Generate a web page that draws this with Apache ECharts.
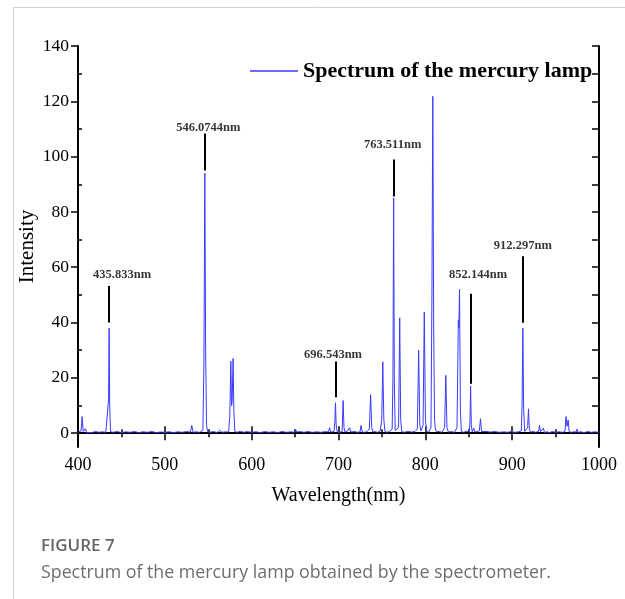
<!DOCTYPE html>
<html>
<head>
<meta charset="utf-8">
<script src="https://cdn.jsdelivr.net/npm/echarts@6/dist/echarts.min.js"></script>
<style>
  html, body { margin: 0; padding: 0; background: #fff; }
  #chart { width: 625px; height: 599px; }
</style>
</head>
<body>
<div id="chart"></div>
<script>
// Mercury lamp spectrum: wavelength (nm) and measured intensity
const wavelengthNm = [
  400, 402, 403.5, 404.8, 406, 407.5, 408.6, 409.8, 412, 416, 420, 424, 428, 432,
  434.3, 435.2, 435.833, 436.5, 437.5, 440, 445, 450, 455, 460, 465, 470, 475, 480,
  485, 490, 495, 500, 505, 510, 515, 520, 525, 529.5, 531, 532.5, 536, 540,
  543.8, 545.0, 546.0744, 547.0, 548.0, 549.2, 552, 556, 560, 563, 566, 570,
  573.5, 574.8, 576.0, 576.9, 577.6, 578.6, 579.5, 580.6, 583, 587, 591, 595,
  600, 605, 610, 615, 620, 625, 630, 635, 640, 645, 649, 650.5, 652, 656, 660,
  665, 670, 675, 680, 685, 688.5, 689.7, 691, 694.8, 695.8, 696.543, 697.3, 698.5,
  701, 704.2, 705.3, 706.3, 707.5, 710, 712.7, 714, 718, 722, 724.8, 726, 727.2,
  730, 733, 735.5, 737, 738.3, 739.5, 742, 745, 748, 749.8, 751, 752.2, 753.5,
  756, 759, 761.8, 762.7, 763.511, 764.3, 765.3, 767, 769.2, 770.5, 771.6, 772.8,
  776, 780, 784, 788, 790.8, 792.3, 793.6, 795, 797.4, 798.8, 800.1, 801.5,
  804, 806.5, 807.6, 808.6, 809.6, 810.6, 811.5, 813, 816, 819, 822.2, 823.6,
  824.9, 826.5, 830, 833.5, 836.5, 838.0, 838.6, 839.4, 840.4, 841.5, 844, 847,
  850.5, 851.4, 852.144, 852.9, 854, 855.7, 857, 859, 862.2, 863.5, 864.8, 867,
  871, 875, 880, 885, 890, 895, 899, 903, 907, 910.5, 911.4, 912.297, 913.2, 914.4,
  916.5, 917.8, 918.8, 919.8, 921, 924, 927, 930.5, 931.5, 932.5, 934.5, 936,
  937.2, 940, 943, 946, 950, 954, 958, 960.8, 962, 963.2, 964.5, 965.6, 968, 971,
  973.5, 974.5, 975.5, 979, 983, 987, 991, 995, 1000
];
const intensity = [
  0.4, 0.5, 0.8, 6.0, 0.6, 0.3, 1.6, 0.2, 0.5, 0.2, 0.6, 0.3, 0.5, 0.3,
  0.8, 12, 38, 10, 0.6, 0.3, 0.6, 0.2, 0.5, 0.3, 0.6, 0.2, 0.5, 0.3,
  0.6, 0.2, 0.4, 0.3, 0.5, 0.2, 0.5, 0.3, 0.6, 0.4, 2.8, 0.3, 0.5, 0.3,
  1.0, 25, 94, 30, 3, 0.6, 0.3, 0.6, 0.2, 1.0, 0.3, 0.5,
  0.4, 6, 26, 10, 12, 27, 8, 0.6, 0.3, 0.7, 0.3, 0.6,
  0.3, 0.5, 0.2, 0.6, 0.3, 0.5, 0.2, 0.6, 0.3, 0.5, 0.3, 1.4, 0.4, 0.6, 0.3,
  0.6, 0.3, 0.5, 0.3, 0.6, 0.4, 2.0, 0.4, 0.6, 4, 11, 3, 0.5,
  0.3, 0.6, 11.8, 2, 0.4, 0.6, 2.0, 0.4, 0.6, 0.3, 0.5, 2.8, 0.5,
  0.3, 0.6, 1.5, 13.9, 2, 0.4, 0.6, 0.3, 0.8, 5, 25.8, 5, 0.6,
  0.3, 0.7, 1.5, 20, 85, 18, 1.0, 0.6, 2, 41.7, 5, 0.6,
  0.3, 0.7, 0.4, 0.6, 1.5, 30, 3, 0.8, 3, 43.8, 5, 0.6,
  0.4, 2, 50, 121.8, 40, 5, 1.5, 0.5, 0.6, 0.3, 2, 20.9,
  2, 0.4, 0.6, 0.3, 2, 41, 38, 52, 8, 0.6, 0.3, 0.7,
  0.5, 4, 17, 3, 0.5, 1.8, 0.4, 0.6, 0.8, 5.2, 0.6, 0.3,
  0.6, 0.4, 0.6, 0.3, 0.5, 0.3, 0.6, 0.3, 0.5, 0.8, 10, 38, 9, 0.6,
  0.4, 2, 8.8, 1.5, 0.4, 0.6, 0.3, 0.7, 2.8, 0.5, 0.3, 1.8,
  0.2, 0.5, 0.2, 0.6, 0.3, 0.5, 0.3, 0.6, 6, 2.5, 4.8, 0.6, 0.3, 0.5,
  0.4, 1.5, 0.3, 0.5, 0.2, 0.6, 0.3, 0.5, 0.3
];

// Axis tick values
const yMajorTicks = [0, 20, 40, 60, 80, 100, 120, 140];
const yMinorTicks = [10, 30, 50, 70, 90, 110, 130];
const yAllTicks = [0, 10, 20, 30, 40, 50, 60, 70, 80, 90, 100, 110, 120, 130, 140];

// Labelled emission lines
const lineLabels = ['435.833nm', '546.0744nm', '696.543nm', '763.511nm', '852.144nm', '912.297nm'];
const lineWavelengths = [435.833, 546.0744, 696.543, 763.511, 852.144, 912.297];

// Placement of each marker stroke and its caption (intensity units / px shift)
const markerLayout = [
  { from: 40.0, to: 53.2, textAt: 57.4, dx: 13 },
  { from: 95.0, to: 108.4, textAt: 110.3, dx: 3.5 },
  { from: 13.0, to: 25.9, textAt: 28.4, dx: -2.5 },
  { from: 85.6, to: 99.0, textAt: 104.2, dx: -1 },
  { from: 17.9, to: 50.4, textAt: 57.2, dx: 7.5 },
  { from: 39.9, to: 64.0, textAt: 67.9, dx: 0 }
];

const serif = '"Liberation Serif", "Times New Roman", serif';
const sans = '"Open Sans", "Noto Sans", sans-serif';

const spectrum = wavelengthNm.map((w, i) => [w, intensity[i]]);

const markerLines = lineWavelengths.map((w, i) => [
  { coord: [w, markerLayout[i].from] },
  { coord: [w, markerLayout[i].to] }
]);

const markerTexts = lineWavelengths.map((w, i) => ({
  value: [w, markerLayout[i].textAt],
  label: { offset: [markerLayout[i].dx, 0] },
  name: lineLabels[i]
}));

const axisBlack = { color: '#000', width: 2 };
const tickBlack = { color: '#000', width: 1.5 };

const chart = echarts.init(document.getElementById('chart'), null, { renderer: 'canvas' });

chart.setOption({
  animation: false,
  backgroundColor: '#fff',
  grid: { left: 78, right: 26, top: 46, bottom: 152, containLabel: false },
  legend: {
    data: ['Spectrum of the mercury lamp'],
    left: 245,
    top: 55,
    icon: 'rect',
    itemWidth: 48,
    itemHeight: 1.5,
    textStyle: { fontFamily: serif, fontWeight: 'bold', fontSize: 22, color: '#000' }
  },
  xAxis: [
    {
      type: 'value', position: 'bottom', min: 400, max: 1000, interval: 100,
      axisLine: { lineStyle: axisBlack },
      axisTick: { inside: true, length: 7, lineStyle: tickBlack },
      minorTick: { show: true, splitNumber: 2, length: 4, lineStyle: tickBlack },
      axisLabel: { margin: 9, color: '#000', fontFamily: serif, fontSize: 18, formatter: v => String(v) },
      splitLine: { show: false },
      name: 'Wavelength(nm)',
      nameLocation: 'middle',
      nameGap: 39,
      nameTextStyle: { fontFamily: serif, fontSize: 20, color: '#000' }
    },
    {
      type: 'value', position: 'top', min: 400, max: 1000, interval: 100,
      axisLine: { lineStyle: axisBlack },
      axisTick: { inside: true, length: 7, lineStyle: tickBlack },
      minorTick: { show: true, splitNumber: 2, length: 4, lineStyle: tickBlack },
      axisLabel: { show: false },
      splitLine: { show: false }
    }
  ],
  yAxis: [
    {
      type: 'value', position: 'left', min: -5, max: 140,
      axisLine: { lineStyle: axisBlack },
      axisTick: { inside: false, length: 7, lineStyle: tickBlack, customValues: yMajorTicks },
      axisLabel: { margin: 9, color: '#000', fontFamily: serif, fontSize: 17.5, customValues: yMajorTicks },
      splitLine: { show: false },
      name: 'Intensity',
      nameLocation: 'middle',
      nameGap: 40,
      nameMoveOverlap: false,
      nameTextStyle: { fontFamily: serif, fontSize: 21, color: '#000' }
    },
    {
      type: 'value', position: 'left', min: -5, max: 140,
      axisLine: { show: false },
      axisTick: { inside: true, length: 4, lineStyle: tickBlack, customValues: yMinorTicks },
      axisLabel: { show: false },
      splitLine: { show: false }
    },
    {
      type: 'value', position: 'right', min: -5, max: 140,
      axisLine: { lineStyle: axisBlack },
      axisTick: { inside: true, length: 7, lineStyle: tickBlack, customValues: yAllTicks },
      axisLabel: { show: false },
      splitLine: { show: false }
    }
  ],
  series: [
    {
      name: 'Spectrum of the mercury lamp',
      type: 'line',
      xAxisIndex: 0,
      yAxisIndex: 0,
      data: spectrum,
      showSymbol: false,
      symbol: 'none',
      color: '#3a3aff',
      lineStyle: { color: '#3a3aff', width: 1 },
      z: 3,
      markLine: {
        silent: true,
        symbol: ['none', 'none'],
        label: { show: false },
        lineStyle: { color: '#000', width: 2, type: 'solid' },
        data: markerLines
      }
    },
    {
      name: 'line labels',
      type: 'scatter',
      xAxisIndex: 0,
      yAxisIndex: 0,
      symbolSize: 1,
      itemStyle: { color: 'rgba(0,0,0,0)' },
      silent: true,
      data: markerTexts,
      label: {
        show: true,
        position: 'inside',
        formatter: p => p.name,
        fontFamily: serif,
        fontWeight: 'bold',
        fontSize: 12.5,
        color: '#000'
      }
    }
  ],
  graphic: [
    {
      type: 'rect',
      left: 11, top: 5,
      shape: { width: 612, height: 640 },
      style: { fill: 'none', stroke: '#d2d2d2', lineWidth: 1 },
      silent: true
    },
    {
      type: 'text',
      left: 41, top: 538,
      style: { text: 'FIGURE 7', fontFamily: sans, fontSize: 17, fontWeight: 600, fill: '#666' }
    },
    {
      type: 'text',
      left: 41, top: 564,
      style: { text: 'Spectrum of the mercury lamp obtained by the spectrometer.', fontFamily: sans, fontSize: 17.8, fill: '#6e6e6e' }
    }
  ]
});
</script>
</body>
</html>
